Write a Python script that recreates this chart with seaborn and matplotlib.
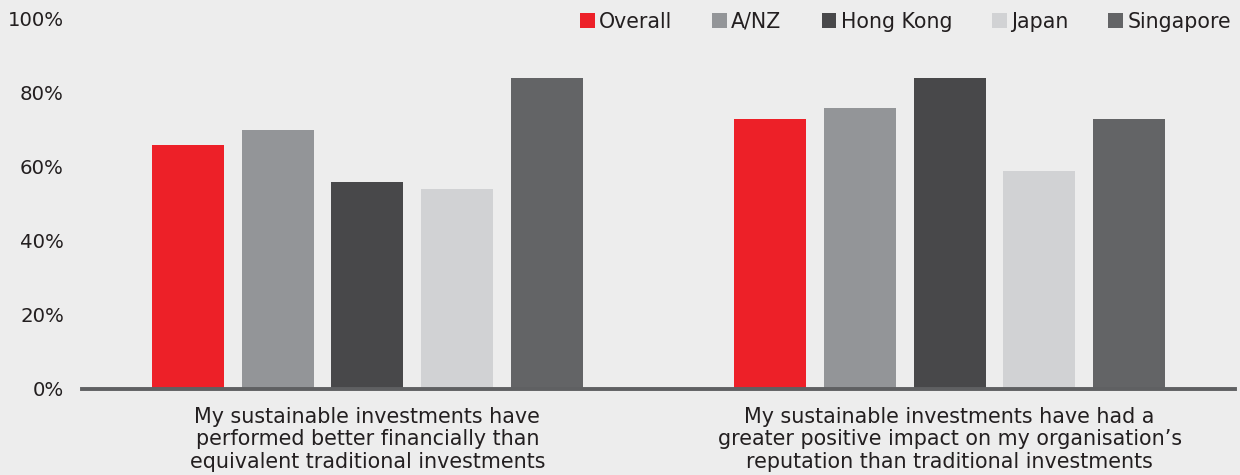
import matplotlib
matplotlib.use("Agg")
import matplotlib.pyplot as plt
from matplotlib.patches import Patch
import seaborn as sns
import pandas as pd

statements = [
    "My sustainable investments have\nperformed better financially than\nequivalent traditional investments",
    "My sustainable investments have had a\ngreater positive impact on my organisation\u2019s\nreputation than traditional investments",
]
markets = ["Overall", "A/NZ", "Hong Kong", "Japan", "Singapore"]
overall = [66, 73]
anz = [70, 76]
hong_kong = [56, 84]
japan = [54, 59]
singapore = [84, 73]
y_ticks = [0, 20, 40, 60, 80, 100]
y_tick_labels = ["0%", "20%", "40%", "60%", "80%", "100%"]

colors = ["#ed2028", "#939598", "#48484a", "#d1d2d4", "#636466"]
bg = "#ededed"
text_color = "#231f20"

series = [overall, anz, hong_kong, japan, singapore]
rows = []
for m, vals in zip(markets, series):
    for s, v in zip(statements, vals):
        rows.append({"statement": s, "market": m, "value": v})
df = pd.DataFrame(rows)

sns.set_theme(style="white")
plt.rcParams["font.family"] = ["DejaVu Sans"]

fig = plt.figure(figsize=(12.4, 4.75), dpi=100, facecolor=bg)
ax = fig.add_axes([82 / 1240, 86 / 475, (1235 - 82) / 1240, (389 - 19) / 475])
ax.set_facecolor(bg)

sns.barplot(data=df, x="statement", y="value", hue="market", order=statements,
            hue_order=markets, palette=colors, width=0.77, gap=0.2,
            saturation=1, ax=ax, legend=False, linewidth=0)

ax.set_xlim(-0.49, 1.49)
ax.set_ylim(0, 100)
ax.set_yticks(y_ticks)
ax.set_yticklabels(y_tick_labels)
ax.set_xlabel("")
ax.set_ylabel("")
for side in ["top", "right", "left"]:
    ax.spines[side].set_visible(False)
ax.spines["bottom"].set_color("#5f6062")
ax.spines["bottom"].set_linewidth(2.8)
ax.spines["bottom"].set_zorder(5)
ax.tick_params(axis="y", length=0, pad=13, labelsize=14.2, labelcolor=text_color)
ax.tick_params(axis="x", length=0, pad=13, labelsize=14.9, labelcolor=text_color)
for lbl in ax.get_xticklabels():
    lbl.set_linespacing(1.14)
    lbl.set_horizontalalignment("center")

handles = [Patch(facecolor=c, edgecolor="none", label=m) for m, c in zip(markets, colors)]
fig.legend(handles=handles, loc="center right", bbox_to_anchor=(1231 / 1240, 1 - 21.5 / 475),
           ncol=5, frameon=False, fontsize=14.8, handlelength=0.72, handleheight=0.72,
           handletextpad=0.2, columnspacing=1.95, borderaxespad=0, borderpad=0,
           labelcolor=text_color)

fig.savefig("out.png", dpi=100, facecolor=bg)
